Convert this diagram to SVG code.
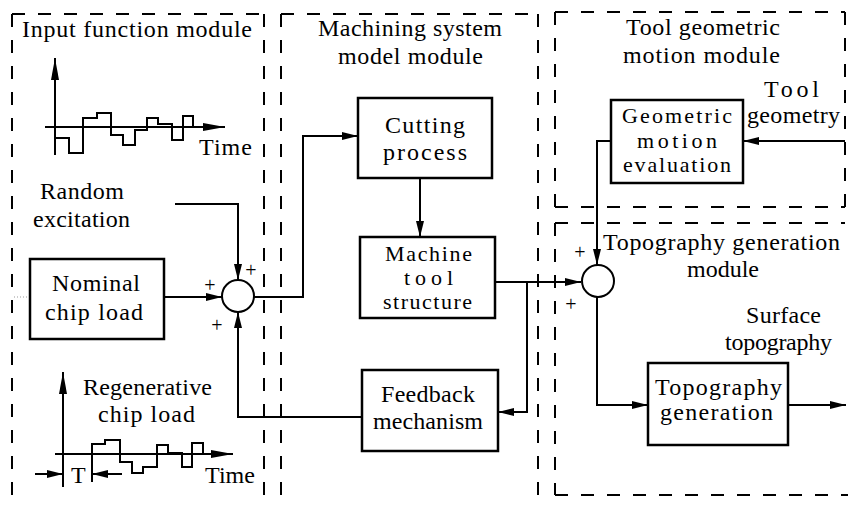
<svg xmlns="http://www.w3.org/2000/svg" width="848" height="506" viewBox="0 0 848 506" font-family="Liberation Serif, DejaVu Serif, serif">
  <defs>
    <marker id="arrow" viewBox="0 0 16 8" refX="16" refY="4" markerWidth="16" markerHeight="8" markerUnits="userSpaceOnUse" orient="auto">
      <path d="M0,0 L16,4 L0,8 Z" fill="#000"/>
    </marker>
    <marker id="arrowLong" viewBox="0 0 22 8" refX="22" refY="4" markerWidth="22" markerHeight="8" markerUnits="userSpaceOnUse" orient="auto">
      <path d="M0,0 L22,4 L0,8 Z" fill="#000"/>
    </marker>
  </defs>
  <style>
    .t { font-family: 'Liberation Serif', serif; font-size: 24px; fill: #000; }
    .s { font-family: 'Liberation Serif', serif; font-size: 22px; fill: #000; }
    .sign { font-family: 'Liberation Serif', serif; font-size: 20px; fill: #000; text-anchor: middle; }
    .module { fill: none; stroke: #000; stroke-width: 2; stroke-dasharray: 13 13; }
    .box { fill: #fff; stroke: #000; stroke-width: 2.5; }
    .sum { fill: #fff; stroke: #000; stroke-width: 2; }
    .wire { fill: none; stroke: #000; stroke-width: 2; }
  </style>
  <rect width="848" height="506" fill="#fff"/>

  <!-- module frames with their titles and signal sketches -->
  <g id="input-function-module">
    <path class="module" d="M12,14 H264 M12,14 V506 M264,14 V506"/>
    <text class="t" x="22" y="37" textLength="230" lengthAdjust="spacing">Input function module</text>
    <!-- random input signal -->
    <line class="wire" x1="55" y1="155" x2="55" y2="58" marker-end="url(#arrowLong)"/>
    <line class="wire" x1="45" y1="127" x2="225" y2="127" marker-end="url(#arrowLong)"/>
    <path class="wire" d="M55,138 H69 V153 H83 V118 H97 V113 H111 V135 H123 V145 H135 V130 H147 V118 H158 V124 H172 V140 H183 V116 H193 V127"/>
    <text class="t" x="199" y="155" textLength="53" lengthAdjust="spacing">Time</text>
    <text class="t" x="40" y="199" textLength="84" lengthAdjust="spacing">Random</text>
    <text class="t" x="33" y="227" textLength="97" lengthAdjust="spacing">excitation</text>
    <!-- delayed regenerative signal -->
    <line class="wire" x1="63" y1="487" x2="63" y2="372" marker-end="url(#arrowLong)"/>
    <line class="wire" x1="55" y1="454" x2="233" y2="454" marker-end="url(#arrowLong)"/>
    <path class="wire" d="M92,482 V444 H105 V440 H120 V462 H132 V473 H143 V467 H157 V445 H168 V453 H182 V467 H192 V443 H203 V454"/>
    <line class="wire" x1="35" y1="474" x2="63" y2="474" marker-end="url(#arrow)"/>
    <line class="wire" x1="122" y1="474" x2="92" y2="474" marker-end="url(#arrow)"/>
    <text class="t" x="71" y="483">T</text>
    <text class="t" x="205" y="483" textLength="50" lengthAdjust="spacing">Time</text>
    <text class="t" x="83" y="395" textLength="129" lengthAdjust="spacing">Regenerative</text>
    <text class="t" x="98" y="422" textLength="97" lengthAdjust="spacing">chip load</text>
    <line x1="14" y1="297" x2="30" y2="297" stroke="#999" stroke-width="1" stroke-dasharray="1 2"/>
  </g>

  <g id="machining-system-module">
    <path class="module" d="M281,14 H538 M281,14 V506 M538,14 V506"/>
    <text class="t" x="318" y="36" textLength="184" lengthAdjust="spacing">Machining system</text>
    <text class="t" x="338" y="64" textLength="145" lengthAdjust="spacing">model module</text>
  </g>

  <g id="tool-geometric-motion-module">
    <path class="module" d="M555,12 H845 M555,12 V207 M845,12 V207 M555,207 H845"/>
    <text class="t" x="626" y="35" textLength="154" lengthAdjust="spacing">Tool geometric</text>
    <text class="t" x="623" y="63" textLength="157" lengthAdjust="spacing">motion module</text>
    <text class="t" x="764" y="97" textLength="55" lengthAdjust="spacing">Tool</text>
    <text class="t" x="747" y="123" textLength="93" lengthAdjust="spacing">geometry</text>
  </g>

  <g id="topography-generation-module">
    <path class="module" d="M555,223 H845 M555,223 V495 M555,495 H848"/>
    <text class="t" x="603" y="250" textLength="237" lengthAdjust="spacing">Topography generation</text>
    <text class="t" x="687" y="277" textLength="72" lengthAdjust="spacing">module</text>
    <text class="t" x="746" y="323" textLength="75" lengthAdjust="spacing">Surface</text>
    <text class="t" x="725" y="350" textLength="107" lengthAdjust="spacing">topography</text>
  </g>

  <!-- connectors -->
  <g id="connectors">
    <path class="wire" d="M175,204 H238 V280" marker-end="url(#arrow)"/>
    <line class="wire" x1="164" y1="297" x2="222" y2="297" marker-end="url(#arrow)"/>
    <path class="wire" d="M362,417 H238 V312" marker-end="url(#arrow)"/>
    <path class="wire" d="M254,297 H303 V136 H358" marker-end="url(#arrow)"/>
    <line class="wire" x1="420" y1="178" x2="420" y2="237" marker-end="url(#arrow)"/>
    <line class="wire" x1="495" y1="282" x2="581" y2="282" marker-end="url(#arrow)"/>
    <path class="wire" d="M527,282 V412 H498" marker-end="url(#arrow)"/>
    <path class="wire" d="M611,141 H597 V265" marker-end="url(#arrow)"/>
    <line class="wire" x1="845" y1="141" x2="743" y2="141" marker-end="url(#arrow)"/>
    <path class="wire" d="M597,297 V405 H648" marker-end="url(#arrow)"/>
    <line class="wire" x1="788" y1="405" x2="846" y2="405" marker-end="url(#arrow)"/>
  </g>

  <!-- blocks -->
  <g id="nominal-chip-load">
    <rect class="box" x="30" y="259" width="134" height="80"/>
    <text class="t" x="52" y="291" textLength="88" lengthAdjust="spacing">Nominal</text>
    <text class="t" x="45" y="320" textLength="98" lengthAdjust="spacing">chip load</text>
  </g>

  <g id="sum-chip-load">
    <circle class="sum" cx="238" cy="296" r="16"/>
    <text class="sign" x="251" y="277">+</text>
    <text class="sign" x="210" y="292">+</text>
    <text class="sign" x="217" y="332">+</text>
  </g>

  <g id="cutting-process">
    <rect class="box" x="358" y="98" width="134" height="80"/>
    <text class="t" x="385" y="133" textLength="80" lengthAdjust="spacing">Cutting</text>
    <text class="t" x="383" y="160" textLength="84" lengthAdjust="spacing">process</text>
  </g>

  <g id="machine-tool-structure">
    <rect class="box" x="360" y="237" width="135" height="81"/>
    <text class="s" x="385" y="261" textLength="87" lengthAdjust="spacing">Machine</text>
    <text class="s" x="404" y="285" textLength="49" lengthAdjust="spacing">tool</text>
    <text class="s" x="383" y="309" textLength="89" lengthAdjust="spacing">structure</text>
  </g>

  <g id="feedback-mechanism">
    <rect class="box" x="362" y="370" width="136" height="81"/>
    <text class="t" x="381" y="402" textLength="94" lengthAdjust="spacing">Feedback</text>
    <text class="t" x="373" y="429" textLength="110" lengthAdjust="spacing">mechanism</text>
  </g>

  <g id="geometric-motion-evaluation">
    <rect class="box" x="611" y="100" width="132" height="83"/>
    <text class="s" x="622" y="123" textLength="110" lengthAdjust="spacing">Geometric</text>
    <text class="s" x="637" y="148" textLength="80" lengthAdjust="spacing">motion</text>
    <text class="s" x="623" y="172" textLength="108" lengthAdjust="spacing">evaluation</text>
  </g>

  <g id="sum-topography">
    <circle class="sum" cx="598" cy="281" r="16"/>
    <text class="sign" x="580" y="259">+</text>
    <text class="sign" x="571" y="311">+</text>
  </g>

  <g id="topography-generation">
    <rect class="box" x="648" y="363" width="140" height="82"/>
    <text class="t" x="655" y="395" textLength="127" lengthAdjust="spacing">Topography</text>
    <text class="t" x="660" y="420" textLength="113" lengthAdjust="spacing">generation</text>
  </g>
</svg>
